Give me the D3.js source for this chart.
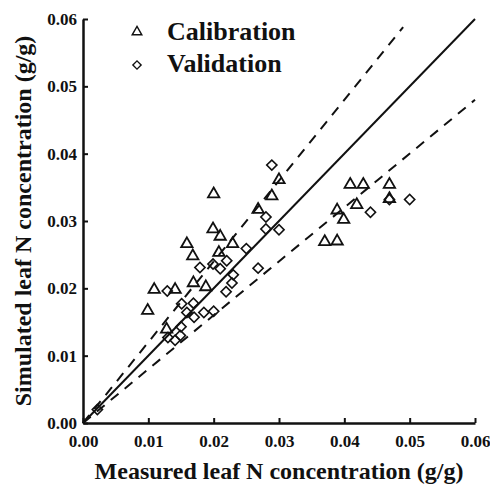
<!DOCTYPE html>
<html>
<head>
<meta charset="utf-8">
<script src="https://cdn.jsdelivr.net/npm/d3@7"></script>
<style>
  body { margin: 0; background: #fff; }
  svg text { font-family: "Liberation Serif", "Times New Roman", serif; font-weight: bold; fill: #111; }
</style>
</head>
<body>
<svg id="chart" width="490" height="485"></svg>
<script>
// measured vs simulated leaf N (g/g)
var calibration = [
  [0.0200, 0.0340], [0.0199, 0.0288], [0.0210, 0.0277], [0.0159, 0.0266],
  [0.0168, 0.0248], [0.0208, 0.0253], [0.0229, 0.0266], [0.0268, 0.0317],
  [0.0289, 0.0337], [0.0300, 0.0361], [0.0169, 0.0208], [0.0188, 0.0202],
  [0.0109, 0.0198], [0.0141, 0.0198], [0.0099, 0.0167], [0.0128, 0.0139],
  [0.0409, 0.0354], [0.0429, 0.0354], [0.0469, 0.0354], [0.0469, 0.0333],
  [0.0389, 0.0316], [0.0419, 0.0324], [0.0399, 0.0302], [0.0370, 0.0269],
  [0.0389, 0.0270]
];

var validation = [
  [0.0289, 0.0383], [0.0280, 0.0306], [0.0280, 0.0288], [0.0300, 0.0287],
  [0.0250, 0.0259], [0.0440, 0.0313], [0.0469, 0.0332], [0.0500, 0.0332],
  [0.0129, 0.0196], [0.0179, 0.0231], [0.0199, 0.0236], [0.0210, 0.0229],
  [0.0220, 0.0241], [0.0268, 0.0230], [0.0230, 0.0220], [0.0228, 0.0208],
  [0.0219, 0.0195], [0.0151, 0.0177], [0.0169, 0.0178], [0.0159, 0.0164],
  [0.0170, 0.0157], [0.0185, 0.0164], [0.0200, 0.0166], [0.0150, 0.0143],
  [0.0141, 0.0123], [0.0149, 0.0130], [0.0130, 0.0127], [0.0022, 0.0020]
];

var tickValues = [0, 0.01, 0.02, 0.03, 0.04, 0.05, 0.06];

// 1:1 line and +/-20% lines: slope, end of line on x
var refSlopes = [1, 1.2, 0.8];
var refEnds = [0.06, 0.049, 0.06];
var refDashed = [false, true, true];

var svg = d3.select("#chart"),
    margin = {top: 19, right: 15, bottom: 62, left: 83},
    width = +svg.attr("width") - margin.left - margin.right,
    height = +svg.attr("height") - margin.top - margin.bottom;

var g = svg.append("g")
    .attr("transform", "translate(" + margin.left + "," + margin.top + ")");

var x = d3.scaleLinear().domain([0, 0.06]).range([0, width]);
var y = d3.scaleLinear().domain([0, 0.06]).range([height, 0]);

// reference lines
refSlopes.forEach(function(s, i) {
  g.append("line")
      .attr("x1", x(0))
      .attr("y1", y(0))
      .attr("x2", x(refEnds[i]))
      .attr("y2", y(refEnds[i] * s))
      .attr("stroke", "#111")
      .attr("stroke-width", 2)
      .attr("stroke-dasharray", refDashed[i] ? "10,8" : null);
});

var tri = d3.symbol().type(d3.symbolTriangle).size(56);
var dia = d3.symbol().type(d3.symbolSquare).size(52);

g.append("g").selectAll("path")
    .data(calibration)
  .enter().append("path")
    .attr("d", tri)
    .attr("transform", function(d) { return "translate(" + x(d[0]) + "," + y(d[1]) + ")"; })
    .attr("fill", "none")
    .attr("stroke", "#111")
    .attr("stroke-width", 1.8);

g.append("g").selectAll("path")
    .data(validation)
  .enter().append("path")
    .attr("d", dia)
    .attr("transform", function(d) { return "translate(" + x(d[0]) + "," + y(d[1]) + ") rotate(45)"; })
    .attr("fill", "none")
    .attr("stroke", "#111")
    .attr("stroke-width", 1.6);

// axes, ticks point inward
var xAxis = g.append("g")
    .attr("transform", "translate(0," + height + ")")
    .call(d3.axisBottom(x)
      .tickValues(tickValues)
      .tickSizeInner(-5)
      .tickSizeOuter(0)
      .tickPadding(12)
      .tickFormat(d3.format(".2f")));

var yAxis = g.append("g")
    .call(d3.axisLeft(y)
      .tickValues(tickValues)
      .tickSizeInner(-5)
      .tickSizeOuter(0)
      .tickPadding(6)
      .tickFormat(d3.format(".2f")));

[xAxis, yAxis].forEach(function(a) {
  a.select(".domain").attr("stroke", "#111").attr("stroke-width", 2.5);
  a.selectAll(".tick line").attr("stroke", "#111").attr("stroke-width", 2);
  a.selectAll(".tick text").attr("font-size", 17).attr("fill", "#111");
});
// y "0.00" sits on the axis corner
yAxis.selectAll(".tick text").attr("dy", "0.32em");

svg.append("text")
    .attr("x", margin.left + width / 2)
    .attr("y", 479)
    .attr("text-anchor", "middle")
    .attr("font-size", 24)
    .text("Measured leaf N concentration (g/g)");

svg.append("text")
    .attr("transform", "translate(31," + (margin.top + height / 2) + ") rotate(-90)")
    .attr("text-anchor", "middle")
    .attr("font-size", 24)
    .text("Simulated leaf N concentration (g/g)");

// legend
var legend = g.append("g").attr("transform", "translate(54,0)");
legend.append("path")
    .attr("d", d3.symbol().type(d3.symbolTriangle).size(40))
    .attr("transform", "translate(0,13)")
    .attr("fill", "none").attr("stroke", "#111").attr("stroke-width", 1.4);
legend.append("text").attr("x", 30).attr("y", 21).attr("font-size", 26).text("Calibration");
legend.append("path")
    .attr("d", d3.symbol().type(d3.symbolSquare).size(34))
    .attr("transform", "translate(0,46) rotate(45)")
    .attr("fill", "none").attr("stroke", "#111").attr("stroke-width", 1.4);
legend.append("text").attr("x", 30).attr("y", 53).attr("font-size", 26).text("Validation");
</script>
</body>
</html>
